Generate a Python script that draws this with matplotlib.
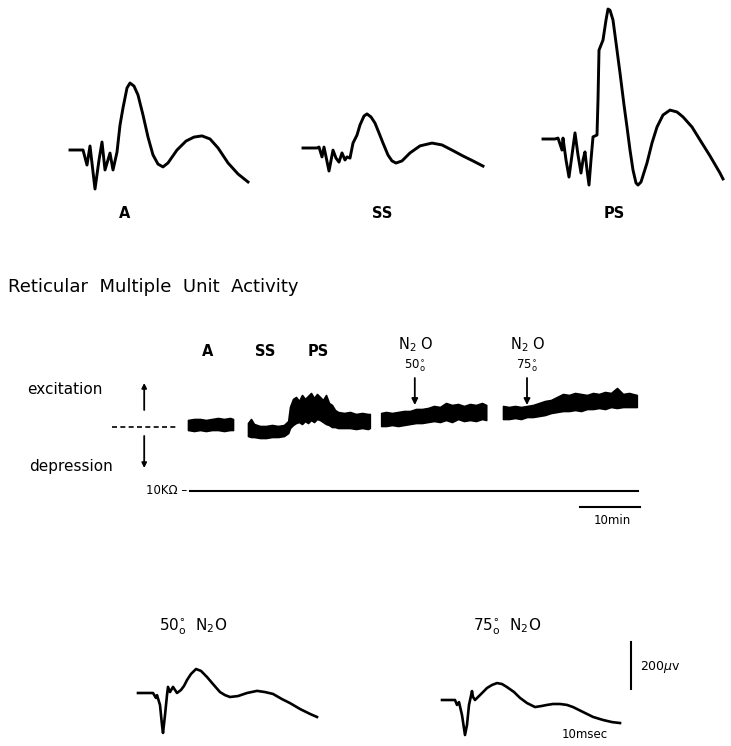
import matplotlib.pyplot as plt
from matplotlib.transforms import Affine2D

# evoked potentials: time after stimulus (ms) and amplitude (uV)
a_t = [0, 2.6, 3.4, 4.0, 5.0, 5.8, 6.4, 7.0, 8.0, 8.6, 9.4, 10.0, 10.6, 11.4, 12.0, 12.8, 13.6,
       14.6, 15.6, 16.6, 17.6, 18.6, 19.6, 21.4, 23.2, 24.8, 26.4, 28.0, 29.6, 31.6, 33.6, 35.6]
a_uv = [0, 0, -64, 17, -166, -43, 34, -85, -13, -85, -9, 106, 179, 264, 285, 272, 234,
        149, 55, -21, -60, -72, -55, 0, 38, 55, 60, 47, 9, -55, -102, -136]

ss_t = [0, 2.8, 3.2, 3.8, 4.2, 5.2, 6.0, 6.6, 7.2, 7.8, 8.4, 8.8, 9.4, 10.0, 10.8, 11.4, 12.2,
        12.8, 13.6, 14.4, 15.2, 16.0, 17.0, 17.8, 18.6, 19.8, 21.4, 23.4, 25.8, 27.8, 29.8,
        32.0, 34.0, 36.0]
ss_uv = [0, 0, 4, -38, 4, -98, -9, -43, -60, -21, -51, -38, -43, 21, 55, 98, 136,
         145, 132, 106, 64, 21, -30, -55, -64, -55, -21, 9, 21, 13, -9,
         -34, -55, -77]

ps_t = [0, 2.4, 3.0, 3.8, 4.0, 4.6, 5.2, 5.8, 6.4, 7.0, 7.6, 8.0, 8.4, 8.8, 9.2, 9.6, 10.0,
        10.8, 11.0, 11.2, 12.0, 12.6, 13.0, 13.4, 14.0, 14.8, 15.4, 16.2, 16.8, 17.4, 18.0,
        18.6, 19.0, 19.6, 20.8, 21.8, 22.8, 24.0, 25.4, 26.8, 28.0, 29.8, 31.4, 33.4, 35.4, 36.0]
ps_uv = [0, 0, 4, -47, 4, -89, -162, -68, 26, -68, -145, -89, -55, -132, -196, -89, 9,
         17, 166, 378, 421, 506, 553, 548, 506, 378, 281, 145, 51, -47, -132,
         -187, -196, -183, -102, -17, 51, 102, 123, 115, 94, 51, -4, -72, -145, -170]

n50_t = [0, 3.0, 3.6, 3.8, 4.4, 4.8, 5.0, 5.4, 5.8, 6.0, 6.4, 7.0, 7.8, 8.6, 9.2, 9.8, 10.6,
         11.6, 12.6, 13.8, 15.0, 16.4, 17.4, 18.4, 20.0, 21.8, 23.8, 25.4, 27.0, 28.8, 30.4,
         32.4, 34.4, 35.8]
n50_uv = [0, 0, -21, -9, -51, -136, -170, -94, -9, 26, 4, 26, 0, 13, 30, 55, 81,
          102, 94, 68, 38, 4, -9, -17, -13, 0, 9, 4, -4, -26, -43,
          -68, -89, -102]

n75_t = [0, 2.6, 3.0, 3.4, 4.0, 4.6, 5.0, 5.4, 6.0, 6.2, 6.6, 7.6, 8.4, 9.0, 10.0, 11.0, 12.0,
         13.0, 14.4, 15.6, 17.0, 18.6, 19.8, 21.0, 22.2, 23.6, 25.0, 26.2, 28.2, 30.2, 32.2,
         34.0, 35.6]
n75_uv = [0, 0, -21, -9, -64, -149, -106, -21, 38, 13, 0, 21, 38, 51, 64, 72, 68,
          55, 34, 9, -13, -30, -26, -21, -17, -17, -21, -30, -51, -72, -85,
          -94, -98]

# multiple unit activity envelope: time (min), upper / lower edge (a.u.)
mua_a_t = [0, 1, 2, 3, 4, 5, 6, 7, 7.5]
mua_a_hi = [7, 8, 8, 7, 8, 9, 8, 9, 8]
mua_a_lo = [-3, -4, -3, -4, -3, -3, -4, -3, -3]

mua_sleep_t = [10, 10.5, 11, 12, 13, 14, 15, 16, 16.7, 17, 17.5, 18, 18.5, 19, 19.5, 20, 20.5,
               21, 21.5, 22, 22.5, 23, 23.5, 24, 24.5, 25, 26, 27, 28, 29, 30, 30.3]
mua_sleep_hi = [4, 8, 3, 1, 1, 2, 1, 2, 6, 20, 28, 30, 26, 32, 28, 31, 34,
                29, 33, 30, 27, 32, 24, 22, 17, 15, 14, 15, 13, 14, 13, 13]
mua_sleep_lo = [-9, -10, -10, -11, -11, -10, -10, -9, -6, -1, 2, 4, 5, 3, 6, 4, 7,
                5, 8, 7, 5, 3, 2, 0, 0, -1, -1, -1, -2, -1, -2, -1]

mua_50_t = [32.2, 33, 34, 35, 36, 37, 38, 39, 40, 41, 42, 43, 44, 45, 46, 47, 48, 49, 49.7]
mua_50_hi = [14, 15, 14, 15, 16, 16, 18, 18, 19, 21, 20, 24, 22, 23, 21, 23, 22, 24, 22]
mua_50_lo = [1, 1, 2, 1, 2, 3, 4, 4, 5, 6, 5, 7, 5, 8, 6, 7, 6, 8, 7]

mua_75_t = [52.5, 53.5, 54.5, 55.5, 56.5, 57.5, 58.5, 59.5, 60.5, 61.5, 62.5, 63.5, 64.5,
            65.5, 66.5, 67.5, 68.5, 69.5, 70.5, 71.5, 72.5, 73.5, 74.8]
mua_75_hi = [21, 20, 21, 20, 21, 22, 24, 26, 27, 30, 33, 32, 34, 33, 32, 34, 33, 35, 34, 39,
             33, 34, 32]
mua_75_lo = [8, 8, 9, 8, 10, 10, 11, 12, 14, 15, 16, 16, 17, 16, 18, 18, 19, 18, 20, 19,
             20, 20, 20]

state_labels = ['A', 'SS', 'PS']
state_label_t = [3.2, 12.8, 21.7]
n2o_onsets = [37.8, 56.5]
n2o_doses = ['50', '75']

fig = plt.figure(figsize=(7.31, 7.46), dpi=100)
ax = fig.add_axes([0, 0, 1, 1])
ax.set_xlim(0, 731)
ax.set_ylim(746, 0)
ax.axis('off')

PX_MS = 5.0          # page units per ms
PX_UV = 47 / 200.0   # page units per uV


def wave_tr(x0, y0):
    return Affine2D().scale(PX_MS, -PX_UV).translate(x0, y0) + ax.transData


# --- top row: averaged evoked responses
for t, v, x0, y0, name, lx in [(a_t, a_uv, 70, 150, 'A', 125),
                               (ss_t, ss_uv, 303, 148, 'SS', 382),
                               (ps_t, ps_uv, 543, 139, 'PS', 614)]:
    ax.plot(t, v, color='black', lw=2.1, solid_joinstyle='round',
            transform=wave_tr(x0, y0))
    ax.text(lx, 213, name, ha='center', va='center', fontsize=10.5, fontweight='bold')

ax.text(8, 287, 'Reticular  Multiple  Unit  Activity', ha='left', va='center', fontsize=13)

# --- middle: MUA record
band_tr = Affine2D().scale(6, -1).translate(188, 427) + ax.transData

for t, hi, lo in [(mua_a_t, mua_a_hi, mua_a_lo),
                  (mua_sleep_t, mua_sleep_hi, mua_sleep_lo),
                  (mua_50_t, mua_50_hi, mua_50_lo),
                  (mua_75_t, mua_75_hi, mua_75_lo)]:
    ax.fill_between(t, lo, hi, color='black', lw=1.2, edgecolor='black',
                    transform=band_tr)

for name, t in zip(state_labels, state_label_t):
    ax.text(188 + 6 * t, 352, name, ha='center', va='center', fontsize=10.5, fontweight='bold')

for t, dose in zip(n2o_onsets, n2o_doses):
    x = 188 + 6 * t
    ax.text(x + 1, 345, r'N$_2$ O', ha='center', va='center', fontsize=10.5)
    ax.text(x, 366, dose + r'$^{\circ}_{\mathsf{o}}$', ha='center', va='center', fontsize=8.5)
    ax.annotate('', xy=(t, 22), xytext=(t, 49), xycoords=band_tr, textcoords=band_tr,
                arrowprops=dict(arrowstyle='-|>', lw=1.3, color='black',
                                mutation_scale=9, shrinkA=0, shrinkB=0))

# excitation / depression axis
ax.plot([-12.7, -1.7], [0, 0], color='black', lw=1.2, ls=(0, (3, 2)), transform=band_tr)
ax.annotate('', xy=(-7.3, 44), xytext=(-7.3, 17), xycoords=band_tr, textcoords=band_tr,
            arrowprops=dict(arrowstyle='-|>', lw=1.3, color='black',
                            mutation_scale=7, shrinkA=0, shrinkB=0))
ax.annotate('', xy=(-7.3, -41), xytext=(-7.3, -9), xycoords=band_tr, textcoords=band_tr,
            arrowprops=dict(arrowstyle='-|>', lw=1.3, color='black',
                            mutation_scale=7, shrinkA=0, shrinkB=0))
ax.text(27, 390, 'excitation', ha='left', va='center', fontsize=11)
ax.text(29, 467, 'depression', ha='left', va='center', fontsize=11)

# resistance baseline and time bar
ax.plot([0.3, 75], [-64, -64], color='black', lw=1.5, transform=band_tr)
ax.text(187, 490, '10KΩ –', ha='right', va='center', fontsize=8.5)
ax.plot([65.3, 75.3], [-80, -80], color='black', lw=1.5, transform=band_tr)
ax.text(612, 521, '10min', ha='center', va='center', fontsize=8.5)

# --- bottom row: responses under N2O
ax.text(193, 627, r'50$^{\circ}_{\mathsf{o}}$  N$_2$O', ha='center', va='center', fontsize=11)
ax.text(507, 627, r'75$^{\circ}_{\mathsf{o}}$  N$_2$O', ha='center', va='center', fontsize=11)
ax.plot(n50_t, n50_uv, color='black', lw=1.9, solid_joinstyle='round', transform=wave_tr(138, 693))
ax.plot(n75_t, n75_uv, color='black', lw=1.9, solid_joinstyle='round', transform=wave_tr(442, 700))

# calibration
ax.plot([0, 0], [0, 200], color='black', lw=1.5, transform=wave_tr(631, 689))
ax.text(640, 667, r'200$\mu$v', ha='left', va='center', fontsize=9)
ax.text(585, 735, '10msec', ha='center', va='center', fontsize=8.5)

fig.savefig('out.png', dpi=100)
